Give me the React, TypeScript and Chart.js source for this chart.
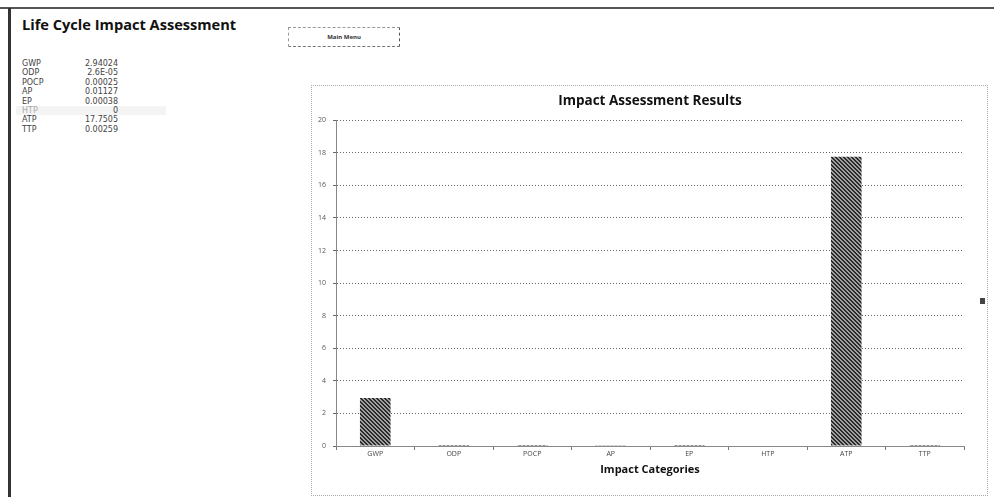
import React, { useEffect, useRef } from "react";
import { Chart, registerables } from "chart.js";

Chart.register(...registerables);

const categories = ["GWP", "ODP", "POCP", "AP", "EP", "HTP", "ATP", "TTP"];
const values = [2.94024, 0.000026, 0.00025, 0.01127, 0.00038, 0, 17.7505, 0.00259];
const valueLabels = ["2.94024", "2.6E-05", "0.00025", "0.01127", "0.00038", "0", "17.7505", "0.00259"];
const yMin = 0;
const yMax = 20;
const yStep = 2;

const FONT = "'Open Sans', 'Liberation Sans', sans-serif";

function makePattern(): CanvasPattern | string {
  const c = document.createElement("canvas");
  c.width = 4;
  c.height = 4;
  const g = c.getContext("2d");
  if (!g) return "#555";
  g.fillStyle = "#a0a0a0";
  g.fillRect(0, 0, 4, 4);
  g.fillStyle = "#2a2a2a";
  for (let i = 0; i < 4; i++) {
    g.fillRect(i, i, 1, 1);
    g.fillRect((i + 1) % 4, i, 1, 1);
  }
  return g.createPattern(c, "repeat") || "#555";
}

function ImpactChart() {
  const ref = useRef<HTMLCanvasElement | null>(null);
  useEffect(() => {
    if (!ref.current) return;
    const pattern = makePattern();
    const chart = new Chart(ref.current, {
      type: "bar",
      data: {
        labels: categories,
        datasets: [
          {
            label: "Impact",
            data: values,
            backgroundColor: pattern as any,
            borderColor: "#333",
            borderWidth: 0,
            categoryPercentage: 1,
            barPercentage: 0.39,
          },
        ],
      },
      options: {
        animation: false,
        responsive: false,
        maintainAspectRatio: false,
        layout: { padding: { left: 0, right: 23, top: 0, bottom: 0 } },
        plugins: {
          legend: { display: false },
          tooltip: { enabled: false },
          title: {
            display: true,
            fullSize: false,
            text: "Impact Assessment Results",
            color: "#111",
            font: { family: FONT, size: 13.5, weight: "bold" },
            padding: { top: 7, bottom: 11 },
          },
        },
        scales: {
          x: {
            grid: {
              display: true,
              drawOnChartArea: false,
              drawTicks: true,
              tickLength: 4,
              color: "#777",
              offset: true,
            },
            border: { display: true, color: "#888", width: 1 },
            ticks: {
              color: "#444",
              font: { family: FONT, size: 7 },
              padding: 0,
              maxRotation: 0,
            },
            title: {
              display: true,
              text: "Impact Categories",
              color: "#111",
              font: { family: FONT, size: 11, weight: "bold" },
              padding: { top: 0, bottom: 19 },
            },
            afterFit: (s: any) => {
              s.height = 49;
            },
          },
          y: {
            min: yMin,
            max: yMax,
            ticks: {
              stepSize: yStep,
              color: "#555",
              font: { family: FONT, size: 7 },
              padding: 7,
            },
            grid: { color: "#666", lineWidth: 1, tickLength: 3 },
            border: { display: true, color: "#888", width: 1, dash: [1, 2] },
            afterFit: (s: any) => {
              s.width = 24;
            },
          },
        },
      },
    });
    return () => chart.destroy();
  }, []);
  return <canvas ref={ref} width={675} height={409} style={{ display: "block", width: 675, height: 409 }} />;
}

export default function App() {
  const rowTop = 59;
  const rowH = 9.4;
  return (
    <div style={{ position: "absolute", left: 0, top: 0, width: 994, height: 497, overflow: "hidden", background: "#fff", fontFamily: FONT }}>
      <div style={{ position: "absolute", left: 0, top: 7, width: 994, height: 2, background: "#555" }} />
      <div style={{ position: "absolute", left: 8, top: 8, width: 3, height: 489, background: "#333" }} />
      <div style={{ position: "absolute", left: 22, top: 14, fontSize: 14.6, fontWeight: "bold", color: "#111", whiteSpace: "nowrap" }}>
        Life Cycle Impact Assessment
      </div>
      <div
        style={{
          position: "absolute",
          left: 288,
          top: 27,
          width: 110,
          height: 18,
          border: "1px dashed #999",
          borderRightColor: "#555",
          borderBottomColor: "#777",
          display: "flex",
          alignItems: "center",
          justifyContent: "center",
          fontSize: 6,
          fontWeight: "bold",
          color: "#333",
        }}
      >
        Main Menu
      </div>
      <div style={{ position: "absolute", left: 16, top: rowTop + 5 * rowH, width: 150, height: rowH, background: "#f4f4f4" }} />
      {categories.map((c, i) => (
        <React.Fragment key={c}>
          <div
            style={{
              position: "absolute",
              left: 22,
              top: rowTop + i * rowH,
              height: rowH,
              lineHeight: rowH + "px",
              fontSize: 8,
              fontFamily: "'DejaVu Sans', sans-serif",
              color: i === 5 ? "#aaa" : "#444",
              whiteSpace: "nowrap",
            }}
          >
            {c}
          </div>
          <div
            style={{
              position: "absolute",
              left: 60,
              width: 58,
              textAlign: "right",
              top: rowTop + i * rowH,
              height: rowH,
              lineHeight: rowH + "px",
              fontSize: 8,
              fontFamily: "'DejaVu Sans', sans-serif",
              color: "#444",
              whiteSpace: "nowrap",
            }}
          >
            {valueLabels[i]}
          </div>
        </React.Fragment>
      ))}
      <div style={{ position: "absolute", left: 311, top: 85, width: 675, height: 409, border: "1px dotted #aaa" }}>
        <ImpactChart />
      </div>
      <div style={{ position: "absolute", left: 980, top: 298, width: 5, height: 6, background: "#444" }} />
    </div>
  );
}
